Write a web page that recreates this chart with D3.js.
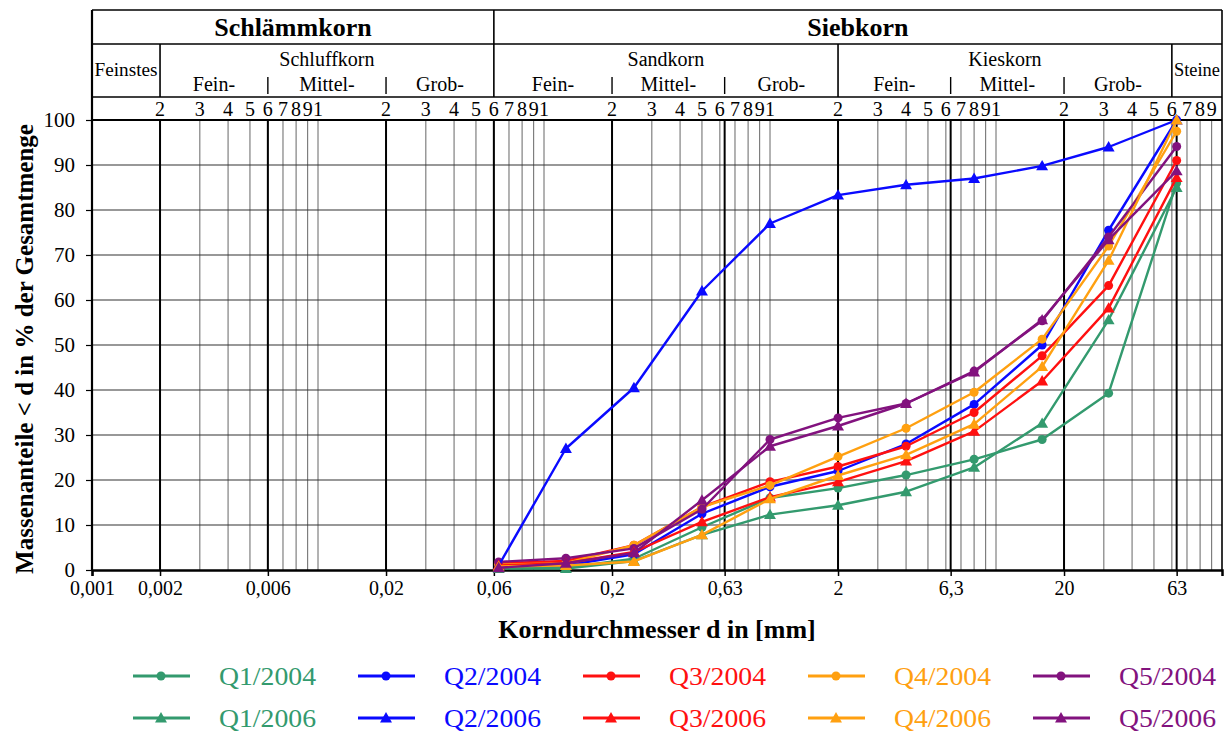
<!DOCTYPE html>
<html>
<head>
<meta charset="utf-8">
<script src="https://cdn.jsdelivr.net/npm/d3@7"></script>
<style>
  body { margin: 0; background: #fff; }
  text { font-family: "Liberation Serif", "Times New Roman", serif; }
</style>
</head>
<body>
<svg id="chart" width="1232" height="733"></svg>
<script>
// sieve sizes in mm (x values of every curve)
const sieveSizes = [0.063, 0.125, 0.25, 0.5, 1, 2, 4, 8, 16, 31.5, 63];

// passing percentages
const q1_2004 = [0.5, 0.5, 2.5, 9.5, 16, 18.2, 21.1, 24.6, 29, 39.3, 86];
const q2_2004 = [1, 1, 3.5, 12.5, 18.5, 22, 28, 36.8, 50, 75.5, 100];
const q3_2004 = [1.5, 2, 5.5, 14, 19.6, 23, 27.5, 35, 47.6, 63.2, 91];
const q4_2004 = [1.2, 1.5, 5.5, 14, 18.8, 25.2, 31.5, 39.5, 51.3, 72, 97.5];
const q5_2004 = [1.8, 2.6, 4.8, 13.5, 29, 33.8, 37, 44.2, 55.4, 74, 94.1];
const q1_2006 = [0.3, 0.3, 2, 7.8, 12.3, 14.4, 17.4, 22.8, 32.6, 55.6, 85];
const q2_2006 = [1, 27, 40.5, 62, 77, 83.3, 85.6, 87, 89.8, 94, 100];
const q3_2006 = [1, 1.5, 4, 10.7, 16.2, 19.6, 24.2, 30.8, 42, 58.2, 87.2];
const q4_2006 = [0.8, 1, 1.9, 7.8, 15.8, 21, 25.6, 32.4, 45.2, 68.8, 100];
const q5_2006 = [0.5, 1.5, 3.8, 15.5, 27.5, 32, 37, 44, 55.6, 73.4, 88.7];

const seriesNames = ["Q1/2004", "Q2/2004", "Q3/2004", "Q4/2004", "Q5/2004",
                     "Q1/2006", "Q2/2006", "Q3/2006", "Q4/2006", "Q5/2006"];
const seriesValues = [q1_2004, q2_2004, q3_2004, q4_2004, q5_2004,
                      q1_2006, q2_2006, q3_2006, q4_2006, q5_2006];
const quarterColors = ["#339a6e", "#0a0aff", "#ff1010", "#ffa010", "#82127e"];

// axis ticks
const xTickValues = [0.001, 0.002, 0.006, 0.02, 0.06, 0.2, 0.63, 2, 6.3, 20, 63];
const xTickLabels = ["0,001", "0,002", "0,006", "0,02", "0,06", "0,2", "0,63", "2", "6,3", "20", "63"];
const yTickValues = [0, 10, 20, 30, 40, 50, 60, 70, 80, 90, 100];

// soil classification header
const mainClasses = ["Schlämmkorn", "Siebkorn"];
const mainBounds = [0.001, 0.06, 100];
const soilClasses = ["Feinstes", "Schluffkorn", "Sandkorn", "Kieskorn", "Steine"];
const soilBounds = [0.001, 0.002, 0.06, 2, 60, 100];
const fractionNames = ["Fein-", "Mittel-", "Grob-"];
const fractionBounds = [
  [0.002, 0.006, 0.02, 0.06],
  [0.06, 0.2, 0.63, 2],
  [2, 6.3, 20, 60]
];
const decadeDigits = [2, 3, 4, 5, 6, 7, 8, 9, 1];

const svg = d3.select("#chart");
const left = 92, right = 1222;
const yTop = 10, yRow1 = 44, yRow2 = 97, plotTop = 120, plotBottom = 570;

const x = d3.scaleLog().domain([0.001, 100]).range([left, right]);
const y = d3.scaleLinear().domain([0, 100]).range([plotBottom, plotTop]);

// ---------- grid ----------
const grid = svg.append("g");
const minorValues = [];
for (let k = -3; k <= 1; k++) {
  for (let n = 1; n <= 9; n++) {
    const v = n * Math.pow(10, k);
    if (v > 0.001 && v < 100) minorValues.push(v);
  }
}
grid.selectAll("line.minor").data(minorValues).enter().append("line")
  .attr("x1", d => x(d)).attr("x2", d => x(d))
  .attr("y1", plotTop).attr("y2", plotBottom)
  .attr("stroke", "#555").attr("stroke-width", 0.9);

grid.selectAll("line.h").data(yTickValues.slice(1, -1)).enter().append("line")
  .attr("x1", left).attr("x2", right)
  .attr("y1", d => y(d)).attr("y2", d => y(d))
  .attr("stroke", "#333").attr("stroke-width", 1.1);

grid.selectAll("line.major").data(xTickValues.slice(1)).enter().append("line")
  .attr("x1", d => x(d)).attr("x2", d => x(d))
  .attr("y1", plotTop).attr("y2", plotBottom)
  .attr("stroke", "#000").attr("stroke-width", 2);

// ---------- header table ----------
const head = svg.append("g").attr("stroke", "#000");
[yTop, yRow1, yRow2, plotTop].forEach((yy, i) => {
  head.append("line").attr("x1", left).attr("x2", right)
    .attr("y1", yy).attr("y2", yy).attr("stroke-width", i === 3 ? 2.2 : 1.6);
});
head.append("line").attr("x1", left).attr("x2", left).attr("y1", yTop).attr("y2", plotBottom).attr("stroke-width", 2.2);
head.append("line").attr("x1", right).attr("x2", right).attr("y1", yTop).attr("y2", plotBottom).attr("stroke-width", 1.6);
head.append("line").attr("x1", x(0.06)).attr("x2", x(0.06)).attr("y1", yTop).attr("y2", yRow2).attr("stroke-width", 1.6);
[0.002, 2, 60].forEach(v => {
  head.append("line").attr("x1", x(v)).attr("x2", x(v)).attr("y1", yRow1).attr("y2", yRow2).attr("stroke-width", 1.6);
});
fractionBounds.forEach(b => {
  [b[1], b[2]].forEach(v => {
    head.append("line").attr("x1", x(v)).attr("x2", x(v)).attr("y1", 77).attr("y2", 94).attr("stroke-width", 1.4);
  });
});

mainClasses.forEach((name, i) => {
  svg.append("text")
    .attr("x", (x(mainBounds[i]) + x(mainBounds[i + 1])) / 2).attr("y", 36)
    .attr("text-anchor", "middle").attr("font-size", 26).attr("font-weight", "bold")
    .text(name);
});

soilClasses.forEach((name, i) => {
  const cx = (x(soilBounds[i]) + x(soilBounds[i + 1])) / 2;
  const single = (i === 0 || i === 4);
  svg.append("text")
    .attr("x", cx).attr("y", single ? 76 : 66)
    .attr("text-anchor", "middle").attr("font-size", single ? 18 : 20)
    .attr("textLength", single ? (i === 0 ? 63 : 46) : null)
    .attr("lengthAdjust", "spacingAndGlyphs")
    .text(name);
});

fractionBounds.forEach(b => {
  fractionNames.forEach((name, j) => {
    svg.append("text")
      .attr("x", (x(b[j]) + x(b[j + 1])) / 2).attr("y", 91)
      .attr("text-anchor", "middle").attr("font-size", 20)
      .text(name);
  });
});

// digits row
const digitTicks = [];
for (let k = -3; k <= 1; k++) {
  decadeDigits.forEach(n => {
    const v = n === 1 ? Math.pow(10, k + 1) : n * Math.pow(10, k);
    if (v < 100) digitTicks.push({ v: v, label: n });
  });
}
svg.append("g").selectAll("text").data(digitTicks).enter().append("text")
  .attr("x", d => x(d.v)).attr("y", 116)
  .attr("text-anchor", "middle").attr("font-size", 20)
  .text(d => d.label);

// ---------- axes ----------
const xAxis = svg.append("g")
  .attr("transform", `translate(0 ${plotBottom})`)
  .call(d3.axisBottom(x).tickValues(xTickValues).tickFormat((d, i) => xTickLabels[i]).tickSize(6).tickPadding(5));
xAxis.attr("font-size", 20).attr("font-family", "Liberation Serif, serif");
xAxis.select(".domain").attr("stroke-width", 2.5).attr("stroke", "#000");
xAxis.selectAll(".tick line").attr("stroke-width", 1.5);
xAxis.selectAll(".tick text").attr("fill", "#000");

const yAxis = svg.append("g")
  .attr("transform", `translate(${left} 0)`)
  .call(d3.axisLeft(y).tickValues(yTickValues).tickSize(6).tickPadding(11));
yAxis.attr("font-size", 21).attr("font-family", "Liberation Serif, serif");
yAxis.select(".domain").remove();
yAxis.selectAll(".tick line").attr("stroke-width", 1.2);
yAxis.selectAll(".tick text").attr("fill", "#000");

svg.append("text")
  .attr("transform", `translate(24 ${(plotTop + plotBottom) / 2 + 4}) rotate(-90)`)
  .attr("text-anchor", "middle").attr("dominant-baseline", "central")
  .attr("font-size", 25).attr("font-weight", "bold")
  .text("Massenanteile < d in % der Gesamtmenge");

svg.append("text")
  .attr("x", 657).attr("y", 638)
  .attr("text-anchor", "middle").attr("font-size", 26).attr("font-weight", "bold")
  .text("Korndurchmesser d in [mm]");

// ---------- series ----------
const line = d3.line().x((d, i) => x(sieveSizes[i])).y(d => y(d));
const triangle = d3.symbol().type(d3.symbolTriangle).size(62);

const marker = (g, isTriangle, color) => {
  if (isTriangle) {
    g.append("path").attr("d", triangle).attr("fill", color);
  } else {
    g.append("circle").attr("r", 4.5).attr("fill", color);
  }
};

seriesValues.forEach((vals, s) => {
  const color = quarterColors[s % 5];
  const isTriangle = s >= 5;
  const g = svg.append("g");
  g.append("path").datum(vals).attr("d", line)
    .attr("fill", "none").attr("stroke", color).attr("stroke-width", 2.4)
    .attr("stroke-linejoin", "round");
  vals.forEach((v, i) => {
    const m = g.append("g").attr("transform", `translate(${x(sieveSizes[i])} ${y(v) + (isTriangle ? 1 : 0)})`);
    marker(m, isTriangle, color);
  });
});

// ---------- legend ----------
const legend = svg.append("g");
seriesNames.forEach((name, s) => {
  const col = s % 5, row = Math.floor(s / 5);
  const lx = 133 + col * 225, ly = 676 + row * 42;
  const color = quarterColors[col];
  legend.append("line").attr("x1", lx).attr("x2", lx + 57)
    .attr("y1", ly).attr("y2", ly).attr("stroke", color).attr("stroke-width", 3);
  const m = legend.append("g").attr("transform", `translate(${lx + 28} ${ly + (row ? 1 : 0)})`);
  marker(m, row === 1, color);
  legend.append("text").attr("x", lx + 86).attr("y", ly + 9)
    .attr("font-size", 26).attr("fill", color)
    .attr("textLength", 97).attr("lengthAdjust", "spacingAndGlyphs")
    .text(name);
});
</script>
</body>
</html>
